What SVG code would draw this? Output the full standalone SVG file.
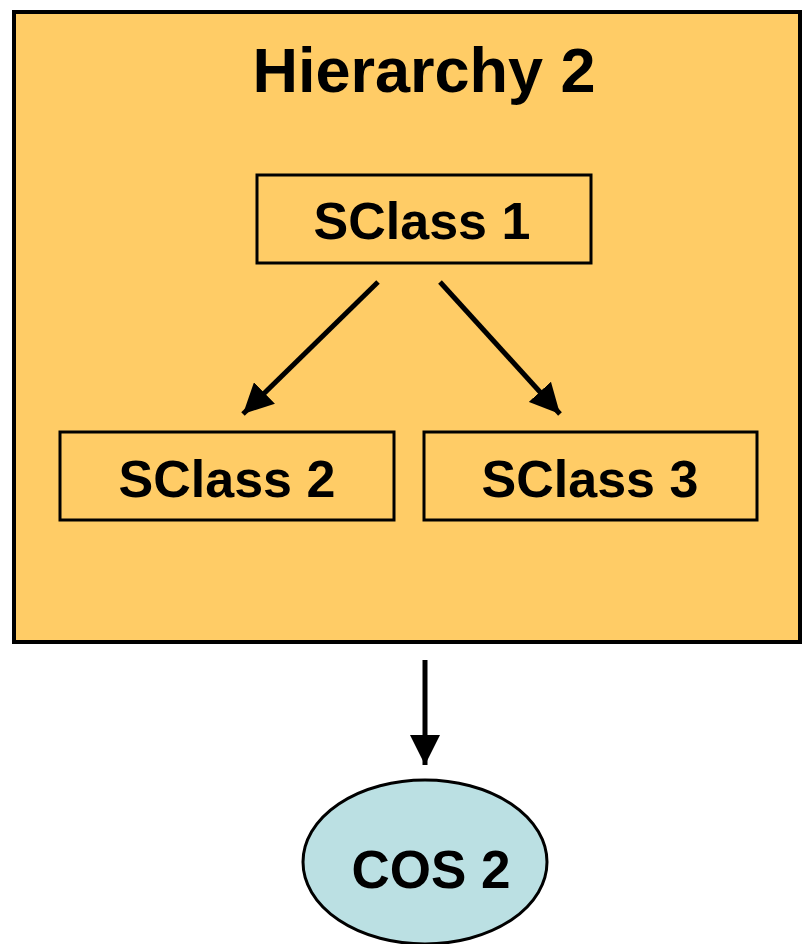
<svg xmlns="http://www.w3.org/2000/svg" width="803" height="944" viewBox="0 0 803 944">
<defs>
<style>
.box{fill:#FFCC66;stroke:#000;stroke-width:3}
.t{font-family:"Liberation Sans",Arial,sans-serif;font-weight:bold;fill:#000;text-anchor:middle}
.c{stroke:#000;stroke-width:5;fill:none}
</style>
<marker id="a2" viewBox="0 0 30 30" refX="30" refY="15" markerWidth="30" markerHeight="30" markerUnits="userSpaceOnUse" orient="auto">
<path d="M0,0 L30,15 L0,30 z" fill="#000"/>
</marker>
</defs>
<rect width="803" height="944" fill="#fff"/>
<g id="hierarchy2">
<rect x="14" y="12" width="786" height="630" fill="#FFCC66" stroke="#000" stroke-width="4"/>
<text class="t" x="424" y="92" font-size="63">Hierarchy 2</text>
</g>
<g id="sclass1">
<rect class="box" x="257" y="175" width="334" height="88"/>
<text class="t" x="422" y="239" font-size="52">SClass 1</text>
</g>
<g id="sclass2">
<rect class="box" x="60" y="432" width="334" height="88"/>
<text class="t" x="227" y="497" font-size="52">SClass 2</text>
</g>
<g id="sclass3">
<rect class="box" x="424" y="432" width="333" height="88"/>
<text class="t" x="590" y="497" font-size="52">SClass 3</text>
</g>
<g id="cos2">
<ellipse cx="425" cy="862" rx="122" ry="82" fill="#BBE0E3" stroke="#000" stroke-width="3"/>
<text class="t" x="431" y="888" font-size="53">COS 2</text>
</g>
<g id="connectors">
<line class="c" x1="378" y1="282" x2="243" y2="414" marker-end="url(#a2)"/>
<line class="c" x1="440" y1="282" x2="560" y2="414" marker-end="url(#a2)"/>
<line class="c" x1="425" y1="660" x2="425" y2="765" marker-end="url(#a2)"/>
</g>
</svg>
